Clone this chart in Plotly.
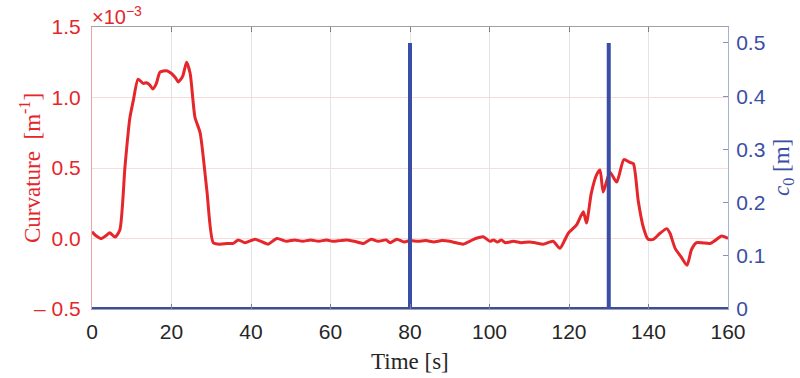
import plotly.graph_objects as go

# Curvature series (units of 1e-3 m^-1)
time_s = [0, 1, 2.4, 3.5, 4.5, 5.8, 7, 8.3, 9.5, 10.4, 11.6, 12.9, 13.7, 14.5, 15.3, 16.2,
          17.1, 18.8, 20, 21, 21.7, 22.8, 23.8, 24.7, 25.9, 27.2, 28.9, 30.5, 32.2, 34, 35.5,
          36.8, 38.5, 41, 42.5, 44.3, 46.5, 49, 51, 53, 55, 57, 59, 60.5, 62.4, 64, 66, 68.3,
          70.2, 72, 74, 75, 76.7, 78.5, 80, 82, 84, 86, 88, 90, 91.5, 93.4, 95, 96.5, 98.4,
          100.1, 101, 102, 103, 104, 106, 108, 110, 111.5, 113.5, 116, 117.7, 119.8, 121.9,
          123.6, 124.4, 125.6, 126.9, 127.8, 128.6, 130.3, 132, 133.8, 135.3, 136.2, 137.4,
          138.7, 139.9, 141.2, 142.9, 144.6, 145.4, 146.7, 148.2, 149.7, 150.8, 152.1, 155.5,
          156.7, 158.4, 160]
curvature = [0.048, 0.02, 0.0, 0.02, 0.04, 0.01, 0.06, 0.51, 0.85, 0.98, 1.13, 1.10, 1.105,
             1.09, 1.06, 1.10, 1.18, 1.19, 1.17, 1.14, 1.11, 1.15, 1.25, 1.17, 0.86, 0.75, 0.34,
             -0.03, -0.04, -0.035, -0.035, -0.01, -0.03, -0.005, -0.02, -0.04, 0.0, -0.02,
             -0.01, -0.02, -0.01, -0.02, -0.01, -0.02, -0.015, -0.01, -0.02, -0.035, -0.005,
             -0.02, -0.01, -0.03, -0.005, -0.025, -0.015, -0.02, -0.015, -0.025, -0.015, -0.02,
             -0.03, -0.04, -0.02, 0.0, 0.013, -0.02, -0.01, -0.025, -0.01, -0.03, -0.02, -0.03,
             -0.025, -0.03, -0.04, -0.02, -0.07, 0.037, 0.096, 0.19, 0.11, 0.32, 0.45, 0.486,
             0.33, 0.47, 0.40, 0.56, 0.54, 0.53, 0.27, 0.08, -0.006, -0.006, 0.037, 0.07, 0.037,
             -0.07, -0.13, -0.19, -0.08, -0.03, -0.035, -0.015, 0.018, 0.0]

# c0 series
time_c0 = [0, 80, 80, 80, 130, 130, 130, 160]
c0 = [0, 0, 0.5, 0, 0, 0.5, 0, 0]

left_ticks = [-0.5, 0.0, 0.5, 1.0, 1.5]
left_labels = ["\u2013 0.5", "0.0", "0.5", "1.0", "1.5"]
right_ticks = [0, 0.1, 0.2, 0.3, 0.4, 0.5]
right_labels = ["0", "0.1", "0.2", "0.3", "0.4", "0.5"]
x_ticks = [0, 20, 40, 60, 80, 100, 120, 140, 160]

RED = "#e5262a"
BLUE = "#3a4ea5"
TICKFONT = "Liberation Sans, Arial, sans-serif"
SERIF = "Liberation Serif, Times New Roman, serif"

fig = go.Figure()
fig.add_trace(go.Scatter(x=time_s, y=curvature, mode="lines",
                         line=dict(color=RED, width=3, shape="spline", smoothing=0.6),
                         yaxis="y", showlegend=False))
fig.add_trace(go.Scatter(x=time_c0, y=c0, mode="lines",
                         line=dict(color=BLUE, width=4),
                         yaxis="y2", showlegend=False))

fig.update_layout(
    width=800, height=378,
    margin=dict(l=92, r=72, t=27, b=69),
    paper_bgcolor="white", plot_bgcolor="white",
    xaxis=dict(range=[0, 160], tickvals=x_ticks, showgrid=True, gridcolor="#e4e4e4",
               gridwidth=1, zeroline=False, showline=True, linecolor="#a0a0a0",
               mirror="ticks", ticks="inside", ticklen=5, tickcolor="#808080",
               automargin=False, ticklabelstandoff=4,
               tickfont=dict(family=TICKFONT, size=21, color="#262626")),
    yaxis=dict(range=[-0.5, 1.5], tickvals=left_ticks, ticktext=left_labels,
               showgrid=True, gridcolor="#f8dcdc", zeroline=False, showline=True,
               linecolor="#eaa4a4", ticks="", automargin=False, ticklabelstandoff=6,
               tickfont=dict(family=TICKFONT, size=21, color=RED)),
    yaxis2=dict(range=[0, 0.53], overlaying="y", side="right", tickvals=right_ticks,
                ticktext=right_labels, showgrid=False, zeroline=False, showline=True,
                linecolor="#a8b0d8", ticks="inside", ticklen=5, tickcolor="#8890c0",
                automargin=False, ticklabelstandoff=3,
                tickfont=dict(family=TICKFONT, size=21, color=BLUE)),
    annotations=[
        dict(text="\u00d710<sup>\u22123</sup>", xref="paper", yref="paper",
             x=0, y=1, xanchor="left", yanchor="bottom", showarrow=False,
             yshift=-3, xshift=-2, font=dict(family=TICKFONT, size=20, color=RED)),
        dict(text="Time [s]", xref="paper", yref="paper", x=0.5, y=0, xanchor="center",
             yanchor="top", yshift=-38, showarrow=False,
             font=dict(family=SERIF, size=23, color="#262626")),
        dict(text="Curvature  [m<sup>-1</sup>]", xref="paper", yref="paper", x=0, y=0.5,
             xanchor="center", yanchor="middle", xshift=-62, textangle=-90, showarrow=False,
             font=dict(family=SERIF, size=23, color=RED)),
        dict(text="<i>c</i><sub>0</sub> [m]", xref="paper", yref="paper", x=1, y=0.5,
             xanchor="center", yanchor="middle", xshift=55, textangle=-90, showarrow=False,
             font=dict(family=SERIF, size=23, color=BLUE)),
    ],
)

fig.write_html("out.html", config={"displayModeBar": False},
               post_script="document.body.style.margin='0px';")
